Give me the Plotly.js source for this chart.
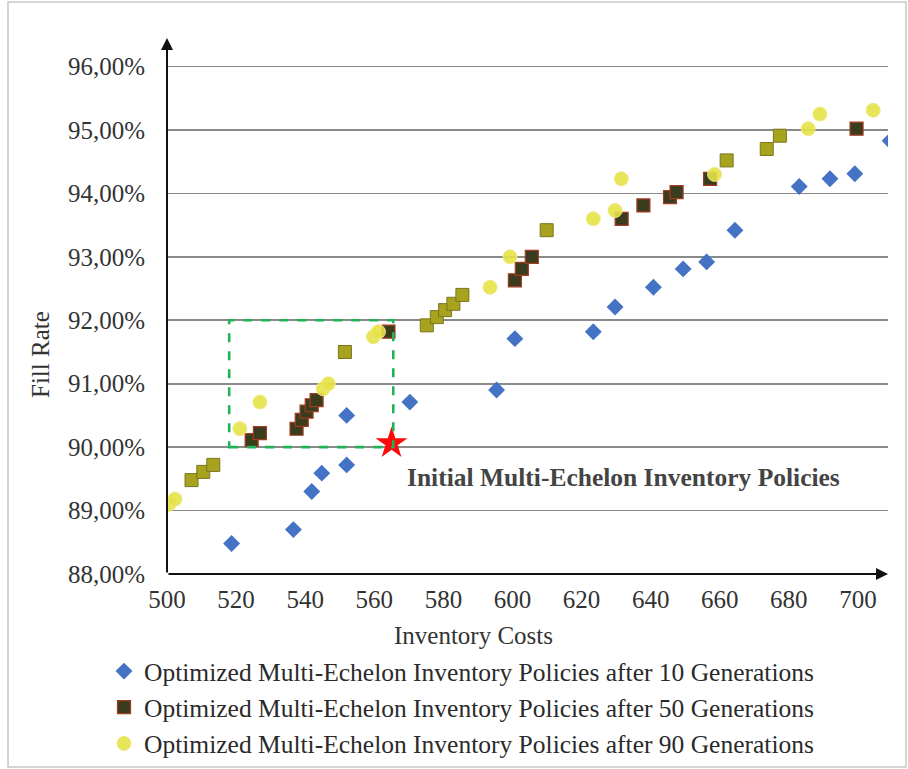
<!DOCTYPE html>
<html><head><meta charset="utf-8">
<script src="https://cdn.plot.ly/plotly-3.0.1.min.js"></script>
<style>html,body{margin:0;padding:0;background:#fff;} #chart{width:908px;height:769px;}</style>
</head><body><div id="chart"></div>
<script>
// Optimized policies after 10 generations
const gen10Cost = [518.7,536.6,541.9,544.8,552.0,552.0,570.3,595.4,600.7,623.4,629.7,640.8,649.4,656.2,664.4,683.0,691.9,699.1,709.3];
const gen10Fill = [88.48,88.70,89.30,89.59,89.72,90.50,90.71,90.90,91.71,91.82,92.21,92.52,92.81,92.92,93.42,94.11,94.23,94.31,94.83];
// Optimized policies after 50 generations (only)
const gen50Cost = [524.5,526.9,537.5,539.0,540.4,541.9,543.3,564.1,600.7,602.7,605.6,631.6,637.9,645.6,647.5,657.2,699.6];
const gen50Fill = [90.11,90.22,90.29,90.43,90.56,90.66,90.74,91.82,92.63,92.81,93.00,93.60,93.81,93.94,94.02,94.23,95.02];
// Policies found after both 50 and 90 generations (overlapping markers)
const sharedCost = [507.1,510.5,513.4,551.5,575.2,578.1,580.5,582.9,585.5,609.9,662.0,673.6,677.4];
const sharedFill = [89.48,89.61,89.72,91.50,91.92,92.05,92.16,92.26,92.40,93.42,94.52,94.70,94.91];
// Optimized policies after 90 generations (only)
const gen90Cost = [500.6,502.3,521.1,526.9,545.2,546.7,559.7,561.2,593.5,599.3,623.4,629.7,631.5,658.5,685.6,689.0,704.4];
const gen90Fill = [89.10,89.18,90.29,90.71,90.92,91.00,91.74,91.82,92.52,93.00,93.60,93.73,94.23,94.30,95.02,95.25,95.31];
// Initial policy and highlighted region
const initialCost = [565.0];
const initialFill = [90.06];
const boxCost = [518.0, 565.5];
const boxFill = [90.0, 92.0];
// Axis ticks
const xTicks = [500,520,540,560,580,600,620,640,660,680,700];
const yTicks = [88,89,90,91,92,93,94,95,96];
const yTickText = ['88,00%','89,00%','90,00%','91,00%','92,00%','93,00%','94,00%','95,00%','96,00%'];
const seriesNames = [
  'Optimized Multi-Echelon Inventory Policies after 10 Generations',
  'Optimized Multi-Echelon Inventory Policies after 50 Generations',
  'Optimized Multi-Echelon Inventory Policies after 90 Generations'
];

const FONT = 'Liberation Serif, Times New Roman, serif';
const traces = [
  {x: gen10Cost, y: gen10Fill, type:'scatter', mode:'markers', name: seriesNames[0], legendgroup:'g10',
   marker:{symbol:'diamond', size:13, color:'#4472c4', line:{width:0}}},
  {x: gen50Cost, y: gen50Fill, type:'scatter', mode:'markers', name: seriesNames[1], legendgroup:'g50',
   marker:{symbol:'square', size:13, color:'#3a3c1e', line:{width:1.2, color:'#a33a22'}}},
  {x: sharedCost, y: sharedFill, type:'scatter', mode:'markers', name:'50 & 90 Generations', legendgroup:'g50', showlegend:false,
   marker:{symbol:'square', size:13, color:'#a8a31e', line:{width:1, color:'#7a7620'}}},
  {x: gen90Cost, y: gen90Fill, type:'scatter', mode:'markers', name: seriesNames[2], legendgroup:'g90',
   marker:{symbol:'circle', size:14, color:'rgba(228,226,70,0.9)', line:{width:1, color:'#f2e884'}}},
  {x: initialCost, y: initialFill, type:'scatter', mode:'markers', name:'Initial', showlegend:false,
   marker:{symbol:'star', size:24, color:'#ff0a0a', line:{width:0}}}
];

const plotL = 167, plotR = 888, plotT = 38, plotB = 574;
const W = 908, H = 769;
const pw = plotR - plotL, ph = plotB - plotT;
const px = v => (v - plotL) / pw;
const py = v => (plotB - v) / ph;

const layout = {
  width: W, height: H,
  margin: {l: plotL, r: W - plotR, t: plotT, b: H - plotB, pad: 0, autoexpand:false},
  paper_bgcolor: '#fff', plot_bgcolor: '#fff',
  font: {family: FONT, size: 25, color: '#333'},
  showlegend: true,
  legend: {x: px(104), y: py(648), xanchor:'left', yanchor:'top', traceorder:'grouped', tracegroupgap: 0,
           font:{family: FONT, size: 25.5, color:'#2a2a2a'}, bgcolor:'rgba(0,0,0,0)', itemclick:false},
  xaxis: {range:[500, 708.7], tickvals: xTicks, showgrid:false, zeroline:false, showline:false, automargin:false,
          ticks:'', ticklabelstandoff: 8, tickfont:{family: FONT, size: 25, color:'#333'}, fixedrange:true},
  yaxis: {range:[88, 96.45], tickvals: yTicks, ticktext: yTickText, showgrid:true, gridcolor:'#8a8a8a', gridwidth:1.6,
          zeroline:false, showline:false, ticks:'', ticklabelstandoff: 21, automargin:false,
          tickfont:{family: FONT, size: 25, color:'#333'}, fixedrange:true},
  shapes: [
    {type:'rect', xref:'paper', yref:'paper', x0: px(8), x1: px(906), y0: py(767), y1: py(2),
     line:{color:'#c8c8c8', width:1.5}, layer:'below'},
    {type:'rect', xref:'x', yref:'y', x0: boxCost[0], x1: boxCost[1], y0: boxFill[0], y1: boxFill[1],
     line:{color:'#1fb356', width:2.6, dash:'dash'}, layer:'above'}
  ],
  annotations: [
    {xref:'paper', yref:'paper', x:0, y:1, ax:0, ay: ph, axref:'pixel', ayref:'pixel', text:'', showarrow:true,
     arrowhead:2, arrowsize:1.2, arrowwidth:2, arrowcolor:'#111'},
    {xref:'paper', yref:'paper', x:1, y:0, ax:-pw, ay:0, axref:'pixel', ayref:'pixel', text:'', showarrow:true,
     arrowhead:2, arrowsize:1.2, arrowwidth:2, arrowcolor:'#111'},
    {xref:'paper', yref:'paper', x: px(473), y: py(635), xanchor:'center', yanchor:'middle', showarrow:false,
     text:'Inventory Costs', font:{family: FONT, size: 25, color:'#333'}},
    {xref:'paper', yref:'paper', x: px(40), y: py(355), xanchor:'center', yanchor:'middle', showarrow:false, textangle:-90,
     text:'Fill Rate', font:{family: FONT, size: 25, color:'#333'}},
    {xref:'paper', yref:'paper', x: px(405), y: py(477), xanchor:'left', yanchor:'middle', showarrow:false,
     text:'<b>Initial Multi-Echelon Inventory Policies</b>', font:{family: FONT, size: 25.5, color:'#444'}}
  ]
};

Plotly.newPlot('chart', traces, layout, {displayModeBar:false, staticPlot:true});
</script>
</body></html>
